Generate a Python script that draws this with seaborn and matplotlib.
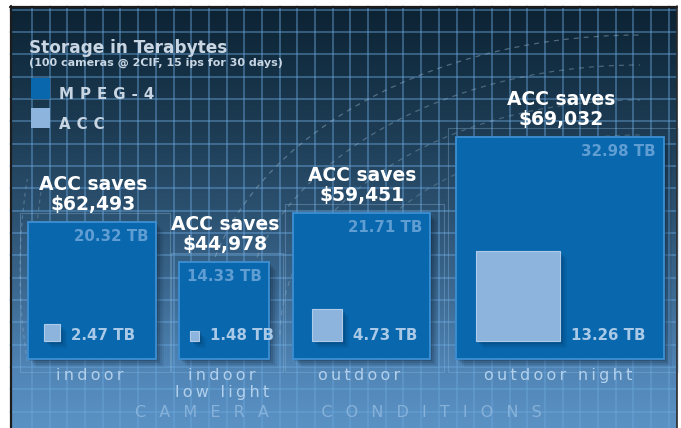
import numpy as np
import matplotlib
matplotlib.use("Agg")
import matplotlib.pyplot as plt
import seaborn as sns
from matplotlib.patches import Arc, Rectangle
from matplotlib.colors import to_rgb

# ---------------- data ----------------
categories = ["indoor", "indoor\nlow light", "outdoor", "outdoor night"]
mpeg4_tb = [20.32, 14.33, 21.71, 32.98]
acc_tb = [2.47, 1.48, 4.73, 13.26]
savings_usd = [62493, 44978, 59451, 69032]
legend_labels = ["MPEG-4", "ACC"]
title = "Storage in Terabytes"
subtitle = "(100 cameras @ 2CIF, 15 ips for 30 days)"
axis_label = "CAMERA CONDITIONS"

# ---------------- style ----------------
W, H = 681, 428
sns.set_theme(style="white")
plt.rcParams['font.family'] = ['DejaVu Sans']

C_MPEG = "#0867ad"
C_MPEG_EDGE = "#3d8fd2"
C_ACC = "#8cb4dd"
C_ACC_EDGE = "#aecbe9"
C_VAL_TOP = "#5f9dd3"
C_VAL_ACC = "#a9c9e7"
C_CAT = "#b2d0ec"
C_LEG = "#c8d6e4"

fig = plt.figure(figsize=(W / 100, H / 100), dpi=100)
fig.patch.set_facecolor("white")
ax = fig.add_axes([0, 0, 1, 1])
ax.set_xlim(0, W)
ax.set_ylim(H, 0)
ax.axis("off")

# panel background gradient
L, R, T, B = 10, 677, 6, 428
stops_y = [6, 60, 130, 220, 300, 370, 428]
stops_c = ["#0c2232", "#132e42", "#1d3c54", "#2d5373", "#3e6c95", "#5085b6", "#5b92c4"]
ys = np.arange(T, B + 1)
rgb = np.array([to_rgb(c) for c in stops_c])
grad = np.stack([np.interp(ys, stops_y, rgb[:, i]) for i in range(3)], axis=-1)
img = np.repeat(grad[:, None, :], 4, axis=1)
ax.imshow(img, extent=(L, R, B, T), aspect="auto", interpolation="bilinear", zorder=0)

# grid
gx = 32 + 17.69 * np.arange(0, 40)
gx = gx[gx < R - 1]
gy = 9.7 + 22.33 * np.arange(0, 20)
gy = gy[gy < B]
for x in gx:
    ax.plot([x, x], [T, B], color="#6aa6dc", alpha=0.55, lw=1.1, zorder=1)
for y in gy:
    ax.plot([L, R], [y, y], color="#6aa6dc", alpha=0.55, lw=1.1, zorder=1)

# decorative dashed arcs
for rx, ry, a in [(880, 600, 0.45), (800, 540, 0.4), (720, 470, 0.35), (620, 400, 0.3)]:
    ax.add_patch(Arc((640, 335), rx, ry, theta1=180, theta2=270, color="#9ab8cc",
                     lw=0.9, ls=(0, (4, 4)), alpha=a, zorder=1))
for rx, ry, a in [(330, 620, 0.35), (300, 560, 0.3)]:
    ax.add_patch(Arc((185, 270), rx, ry, theta1=150, theta2=210, color="#9ab8cc",
                     lw=0.9, ls=(0, (3, 3)), alpha=a, zorder=1))

# frame
ax.plot([L + 0.5, L + 0.5], [T, B], color="#1c1c1c", lw=1.6, zorder=6)
ax.plot([L, R], [T + 0.5, T + 0.5], color="#1c1c1c", lw=1.6, zorder=6)
ax.plot([R - 0.5, R - 0.5], [T, B], color="#2a2a2a", lw=1.2, zorder=6)

# ---------------- boxes ----------------
SX, SY = 6.3, 6.72
box_left = np.array([28, 179, 293, 456], dtype=float)
base = 358.5
acc_inset = np.array([16, 11, 19, 20], dtype=float)
acc_base = 340.5

mp = np.array(mpeg4_tb)
ac = np.array(acc_tb)
bw, bh = mp * SX, mp * SY
aw, ah = ac * SX, ac * SY
acc_left = box_left + acc_inset

# faint outline frames behind boxes
for xl, w_, h_ in zip(box_left, bw, bh):
    ax.add_patch(Rectangle((xl - 8, base - h_ - 9), w_ + 22, h_ + 22, fill=False,
                           ec="#8fbbe0", lw=0.8, alpha=0.35, zorder=2))

# box shadows
for k, a in [(8, 0.07), (6, 0.10), (4, 0.14), (2, 0.18)]:
    ax.bar(box_left + k, -bh, width=bw, bottom=base + k, align="edge",
           color="#051628", alpha=a, lw=0, zorder=3)
ax.bar(box_left, -bh, width=bw, bottom=base, align="edge", color=C_MPEG,
       edgecolor=C_MPEG_EDGE, lw=1.3, zorder=4)

# ACC shadows & squares
for k, a in [(7, 0.10), (5, 0.15), (3, 0.22), (1.5, 0.3)]:
    ax.bar(acc_left + k, -ah, width=aw, bottom=acc_base + k, align="edge",
           color="#00325f", alpha=a, lw=0, zorder=5)
ax.bar(acc_left, -ah, width=aw, bottom=acc_base, align="edge", color=C_ACC,
       edgecolor=C_ACC_EDGE, lw=0.8, zorder=6)

# ---------------- text ----------------
bold = dict(fontweight="bold", family=["DejaVu Sans"])
for i in range(len(categories)):
    xl, w_, h_ = box_left[i], bw[i], bh[i]
    top = base - h_
    cx = xl + w_ / 2
    # savings title
    ax.text(cx + 1, top - 12, f"ACC saves\n${savings_usd[i]:,}", ha="center", va="baseline",
            ma="center", color="white", fontsize=13.5, linespacing=1.05, zorder=8, **bold)
    # MPEG-4 value
    ax.text(xl + w_ - 8, top + 19, f"{mpeg4_tb[i]:.2f} TB", ha="right", va="baseline",
            color=C_VAL_TOP, fontsize=10.8, zorder=8, **bold)
    # ACC value
    ax.text(acc_left[i] + aw[i] + 11, acc_base, f"{acc_tb[i]:.2f} TB", ha="left",
            va="baseline", color=C_VAL_ACC, fontsize=10.8, zorder=8, **bold)
    # category label
    for j, line in enumerate(categories[i].split("\n")):
        spaced = "\u2009".join(line)
        ax.text(cx - 2, 380 + 17 * j, spaced, ha="center", va="baseline",
                color=C_CAT, fontsize=11.5, zorder=8)

# axis title
words = axis_label.split(" ")
sep = " \u2002"
spaced_axis = (sep * 4).join(sep.join(wd) for wd in words)
ax.text(338, 417, spaced_axis, ha="center", va="baseline", color="#8fb8de",
        alpha=0.85, fontsize=11.5, zorder=8)

# legend / heading
ax.text(29, 53, title, ha="left", va="baseline", color=C_LEG, fontsize=12.2, zorder=8, **bold)
ax.text(29, 66, subtitle, ha="left", va="baseline", color=C_LEG, fontsize=8, zorder=8, **bold)
leg_cols = [C_MPEG, C_ACC]
leg_top = [78, 108]
ax.bar([31, 31], [21, 20], width=19, bottom=leg_top, align="edge", color=leg_cols,
       lw=0, zorder=7)
for lab, t in zip(legend_labels, leg_top):
    ax.text(59, t + 21, "\u2009\u2009".join(lab), ha="left", va="baseline", color=C_LEG,
            fontsize=10.8, zorder=8, **bold)

fig.savefig("out.png", dpi=100, facecolor="white")
